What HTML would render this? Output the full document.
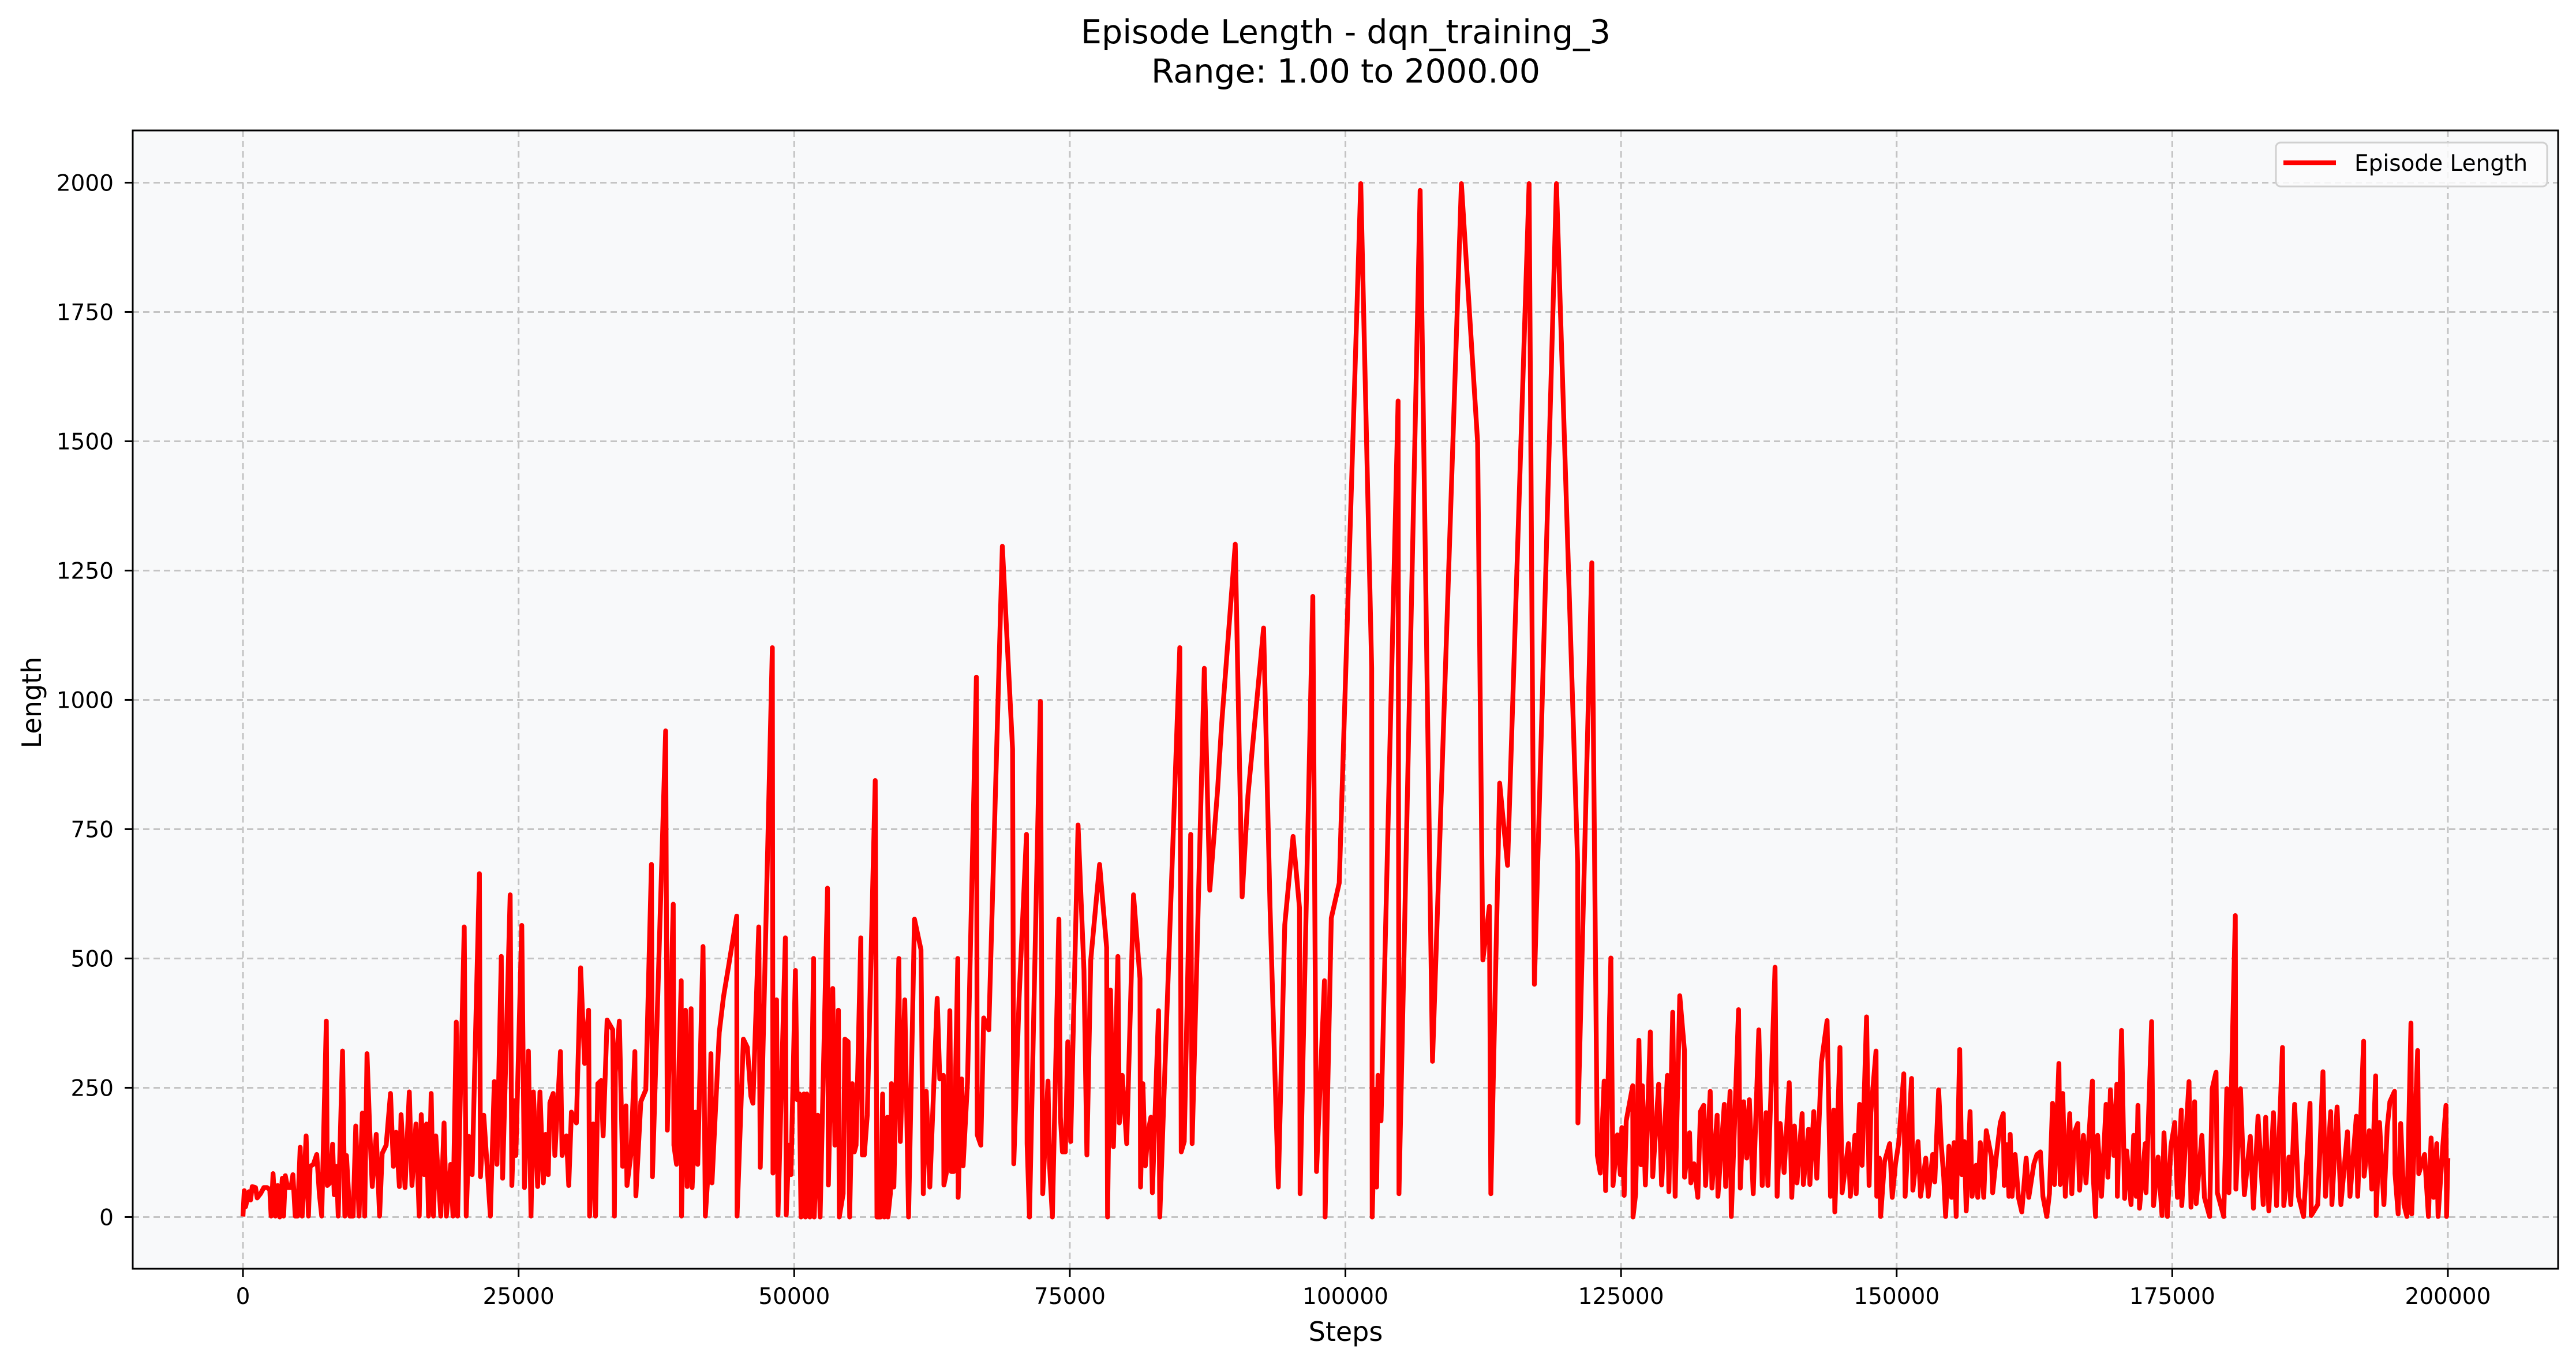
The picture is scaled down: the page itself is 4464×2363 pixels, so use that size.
<!DOCTYPE html>
<html>
<head>
<meta charset="utf-8">
<style>
  html,body{margin:0;padding:0;background:#ffffff;}
  svg{display:block;}
  text{font-family:"DejaVu Sans","Liberation Sans",sans-serif;fill:#000;}
</style>
</head>
<body>
<svg id="chart" width="4464" height="2363" viewBox="0 0 4464 2363" xmlns="http://www.w3.org/2000/svg">
  <rect x="0" y="0" width="4464" height="2363" fill="#ffffff"/>
  <rect x="230" y="226" width="4203" height="1972" fill="#f8f9fa"/>
  <g id="grid"></g>
  <g id="series"></g>
  <rect x="230" y="226" width="4203" height="1972" fill="none" stroke="#000" stroke-width="3"/>
  <g id="ticks"></g>
  <text x="2332" y="75" font-size="57" text-anchor="middle">Episode Length - dqn_training_3</text>
  <text x="2332" y="143" font-size="57" text-anchor="middle">Range: 1.00 to 2000.00</text>
  <text x="2332" y="2323" font-size="46" text-anchor="middle">Steps</text>
  <text x="0" y="0" font-size="46" text-anchor="middle" transform="translate(71,1217) rotate(-90)">Length</text>
  <g>
    <rect x="3944" y="247" width="470" height="76" rx="8" fill="#fcfcfc" fill-opacity="0.85" stroke="#d0d0d0" stroke-width="3"/>
    <line x1="3957" y1="282" x2="4048" y2="282" stroke="#ff0000" stroke-width="8.3"/>
    <text x="4080" y="296" font-size="39">Episode Length</text>
  </g>
</svg>
<script>
const xTicks = [0, 25000, 50000, 75000, 100000, 125000, 150000, 175000, 200000];
const yTicks = [0, 250, 500, 750, 1000, 1250, 1500, 1750, 2000];
const steps = [0,120,240,540,690,840,1140,1290,1590,1890,2190,2430,2550,2730,2940,3150,3330,3570,3690,3840,4050,4350,4530,4740,4950,5190,5370,5550,5730,5940,6090,6390,6690,6930,7140,7560,7650,7890,8130,8280,8490,8640,9030,9240,9390,9690,9990,10230,10530,10830,11040,11250,11490,11730,12090,12390,12630,12990,13380,13650,13890,14190,14340,14700,15090,15330,15690,15990,16170,16440,16650,16830,17070,17280,17490,17940,18240,18450,18840,19050,19350,19470,20070,20250,20490,20790,21450,21540,21840,22440,22800,23040,23430,23550,24240,24390,24630,24750,25290,25530,25890,26130,26340,26730,26940,27240,27450,27690,27840,28140,28290,28800,28950,29340,29550,29790,30240,30630,30990,31350,31440,31770,31980,32190,32490,32670,33030,33540,33690,33780,34140,34440,34740,34830,35190,35550,35640,36090,36540,37050,37140,38340,38490,39030,39090,39330,39750,39780,40140,40290,40650,40740,41040,41250,41730,41940,42240,42450,42540,42840,43200,43590,44040,44790,44820,45390,45750,
46070,46260,46790,46925,48020,48075,48400,48530,49200,49280,49520,49710,50110,50270,50480,50620,50880,51020,51150,51420,51760,51820,52140,52350,53020,53100,53500,53690,54010,54090,54440,54600,54890,55030,55270,55455,55615,56040,56180,56360,56630,57350,57510,57835,58020,58180,58450,58500,58720,58820,59040,59490,59630,60030,60375,60910,61500,61710,61980,62300,62970,63210,63530,63580,63800,64120,64250,64470,64840,64870,65190,65320,65720,66525,66605,66930,67190,67650,68880,69810,69920,70400,71070,71125,71340,72330,72540,73020,73160,73420,74010,74150,74330,74600,74815,75080,75750,76285,76550,76900,77700,78340,78425,78690,78960,79360,79490,79760,80160,80780,81366,81420,81630,81850,82090,82355,82490,83050,83160,83585,83910,84980,85110,85380,85965,86100,87200,87700,
88410,88760,90010,90630,91160,92580,93165,93910,94500,95250,95835,95890,97040,97380,98100,98160,98720,99440,101390,102380,102430,102720,102830,102960,103230,104780,104860,106780,107900,110520,111990,112470,113060,113190,113990,114710,116660,117140,119140,121070,121090,122350,122855,123120,123470,123600,124080,124270,124670,124940,125070,125285,125470,126060,126090,126330,126620,126810,126940,127210,127660,127875,128410,128680,129210,129340,129690,
129910,130330,130750,130760,131220,131335,131615,131965,132200,132500,132670,133090,133250,133720,133790,134370,134490,134890,135000,135660,135820,136120,136400,136640,136990,137500,137810,138160,138320,138970,139160,139440,139790,140260,140490,140730,140960,141430,141540,142010,142130,142480,142760,143180,143690,144000,144300,144390,144860,145050,145630,145800,146220,146330,146640,146870,147270,147500,147660,148130,148200,148435,148550,148900,149370,149600,149900,150190,150650,150770,151355,151470,151940,152170,152640,152870,153270,153460,153810,154040,154275,154440,154740,154980,155210,155400,155720,155910,156140,156310,156660,156840,157200,157360,157590,157900,158130,158600,158710,159060,159410,159670,159760,160000,160185,160300,160465,160745,161050,161350,161750,161985,162450,162730,163035,163270,163620,
163860,164140,164320,164720,164840,165070,165300,165700,165890,166120,166430,166590,166940,167170,167760,167830,168040,168230,168580,169000,169160,169390,169700,169980,170020,170400,170680,170870,171260,171500,171730,171890,172030,172550,172620,173130,173300,173715,174070,174250,174560,174880,175230,175470,175820,175860,176520,176700,177030,177170,177690,177920,178390,178620,178970,179090,179670,179950,180140,180720,180770,181190,181540,182080,182360,182780,183250,183480,183760,184180,184460,185000,185115,185580,185750,186100,186450,186910,187500,187610,188200,188670,188900,189370,189480,189950,190300,190890,191120,191700,191820,192360,192400,192870,193100,193450,193500,193800,194200,194500,194740,195160,195210,195490,195720,196020,196280,196650,196720,197260,197360,197890,198240,198480,198710,198990,199110,199530,199830,199880,200000];
const lengths = [1,51,20,49,33,59,57,37,45,57,57,53,2,84,2,61,0,75,2,80,57,57,82,2,2,135,2,74,157,2,98,102,121,45,2,379,61,66,141,43,98,2,321,2,119,2,2,176,2,201,2,316,172,59,160,2,123,139,239,98,164,59,198,57,242,61,180,2,198,82,180,2,239,2,157,2,182,2,102,2,377,2,561,2,156,82,664,78,197,2,262,102,504,75,623,61,225,119,564,57,321,2,242,59,242,66,160,82,221,239,119,320,119,157,61,203,182,482,297,400,2,180,2,258,264,157,381,362,2,280,379,98,215,61,121,320,41,223,246,682,78,940,168,605,139,102,457,2,400,59,403,57,203,102,523,2,102,316,66,198,357,426,484,582,2,344,328,
234,220,561,96,1101,85,420,4,540,4,139,82,477,227,238,0,238,0,238,0,500,0,197,0,636,62,442,139,400,0,45,344,339,0,258,126,139,540,120,120,197,844,0,0,238,0,193,0,45,258,58,500,146,420,0,576,517,45,243,58,423,267,274,62,85,399,88,88,500,38,267,99,261,1044,159,139,385,362,1297,905,103,423,740,142,0,997,45,263,103,0,576,193,126,126,339,146,758,477,120,497,682,521,0,439,136,504,182,274,142,623,461,58,258,99,163,193,47,399,0,261,457,1101,126,146,740,142,1061,632,
828,950,1301,619,815,1139,598,58,565,736,598,45,1200,88,457,0,578,646,1998,1061,0,247,58,274,186,1578,45,1985,301,1998,1498,497,601,45,839,680,1998,450,1998,682,182,1265,119,85,263,51,501,61,159,82,173,42,186,254,0,45,342,101,254,62,358,78,257,62,274,49,396,
40,428,322,77,163,66,103,38,204,216,61,243,56,197,40,218,59,243,1,401,56,223,114,227,45,362,61,202,61,483,40,181,86,260,38,176,66,200,63,170,63,204,75,299,380,40,207,10,328,47,142,40,158,45,218,100,387,61,202,321,40,114,1,107,142,38,103,144,277,40,268,52,146,40,114,40,121,68,246,142,77,1,137,38,144,1,324,82,146,12,204,40,100,38,144,38,167,116,47,121,183,200,61,140,40,160,40,121,38,10,114,38,103,121,126,40,1,
45,220,63,297,63,239,40,200,45,163,181,52,158,66,263,79,1,158,40,218,77,246,119,257,40,361,36,128,24,158,40,216,17,142,47,378,22,116,3,163,1,137,183,38,207,22,262,19,223,26,158,38,1,248,280,47,1,248,47,583,54,248,43,156,17,195,24,193,12,202,22,328,22,116,24,218,40,1,220,3,24,281,40,204,24,213,24,165,40,195,40,340,79,167,54,273,3,183,24,174,223,243,84,6,181,24,1,375,6,322,84,121,1,153,38,142,1,135,216,1,114];

const PLOT = {left:230, top:226, right:4433, bottom:2198};
const X_MIN = -10000, X_MAX = 210000, Y_MIN = -99.95, Y_MAX = 2100.95;
function xScale(v){ return PLOT.left + (v - X_MIN) / (X_MAX - X_MIN) * (PLOT.right - PLOT.left); }
function yScale(v){ return PLOT.bottom - (v - Y_MIN) / (Y_MAX - Y_MIN) * (PLOT.bottom - PLOT.top); }

const NS = "http://www.w3.org/2000/svg";
const grid = document.getElementById('grid');
const ticks = document.getElementById('ticks');
const series = document.getElementById('series');

function mk(tag, attrs, parent){
  const el = document.createElementNS(NS, tag);
  for (const k in attrs) el.setAttribute(k, attrs[k]);
  parent.appendChild(el);
  return el;
}

xTicks.forEach(function(t){
  const x = xScale(t);
  const g = mk('line', {x1:x, y1:PLOT.top, x2:x, y2:PLOT.bottom, stroke:'#c4c4c4', 'stroke-width':3, 'stroke-dasharray':'11 7'}, grid);
  
  
  const tk = mk('line', {x1:x, y1:PLOT.bottom, x2:x, y2:PLOT.bottom+14, stroke:'#000', 'stroke-width':3}, ticks);
  
  
  const lb = mk('text', {x:x, y:2259, 'font-size':39, 'text-anchor':'middle'}, ticks);
  lb.textContent = String(t);
  
  
});
yTicks.forEach(function(t){
  const y = yScale(t);
  const g = mk('line', {x1:PLOT.left, y1:y, x2:PLOT.right, y2:y, stroke:'#c4c4c4', 'stroke-width':3, 'stroke-dasharray':'11 7'}, grid);
  
  
  const tk = mk('line', {x1:PLOT.left-14, y1:y, x2:PLOT.left, y2:y, stroke:'#000', 'stroke-width':3}, ticks);
  
  
  const lb = mk('text', {x:197, y:y+14, 'font-size':39, 'text-anchor':'end'}, ticks);
  lb.textContent = String(t);
  
  
});

let d = '';
const n = Math.min(steps.length, lengths.length);
for (let i = 0; i < n; i++){
  d += (i === 0 ? 'M' : 'L') + xScale(steps[i]).toFixed(1) + ' ' + yScale(lengths[i]).toFixed(1);
}
const line = mk('path', {d:d, fill:'none', stroke:'#ff0000', 'stroke-width':8.3, 'stroke-linejoin':'round', 'stroke-linecap':'butt'}, series);


</script>
</body>
</html>
